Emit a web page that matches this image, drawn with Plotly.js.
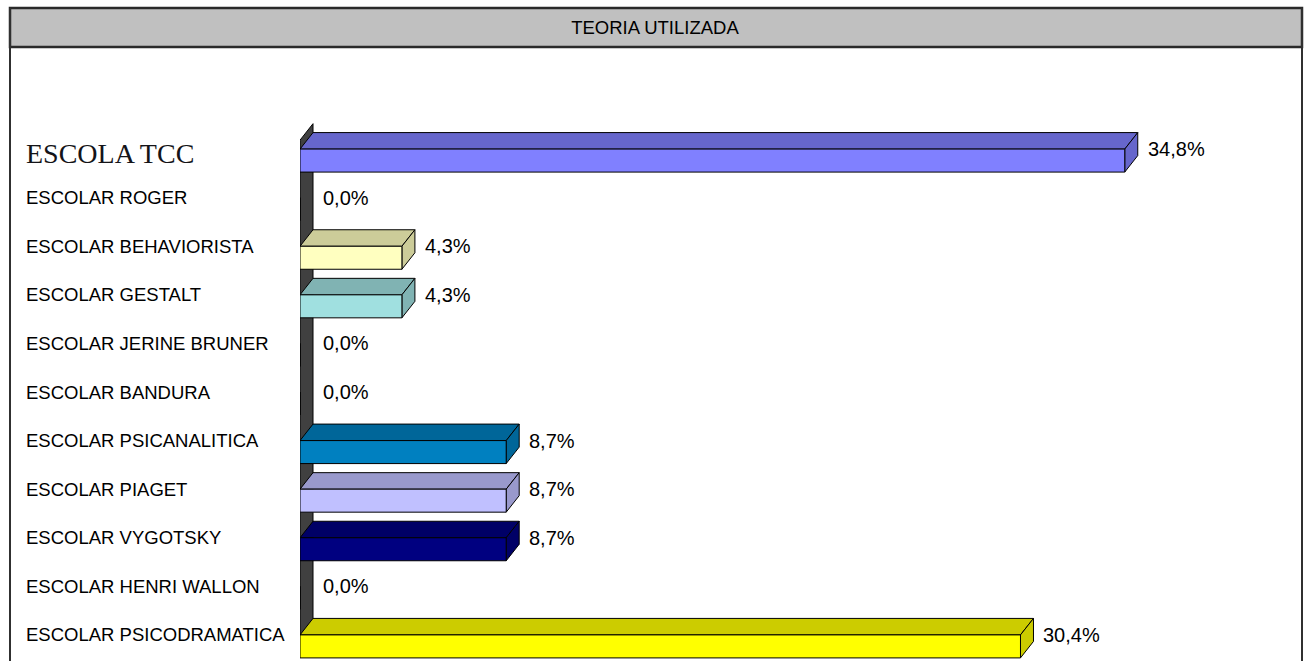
<!DOCTYPE html>
<html>
<head>
<meta charset="utf-8">
<script src="https://cdn.plot.ly/plotly-3.0.1.min.js"></script>
<style>html,body{margin:0;padding:0;background:#fff;}#chart{width:1310px;height:661px;}</style>
</head>
<body>
<div id="chart"></div>
<script>
// ---- data ----
const categories = ["ESCOLA TCC","ESCOLAR ROGER","ESCOLAR BEHAVIORISTA","ESCOLAR GESTALT","ESCOLAR JERINE BRUNER","ESCOLAR BANDURA","ESCOLAR PSICANALITICA","ESCOLAR PIAGET","ESCOLAR VYGOTSKY","ESCOLAR HENRI WALLON","ESCOLAR PSICODRAMATICA"];
const values = [34.8, 0.0, 4.3, 4.3, 0.0, 0.0, 8.7, 8.7, 8.7, 0.0, 30.4];
const frontColors = ["#8080FF","#993366","#FFFFC0","#A0E0E0","#660066","#FF8080","#0080C0","#C0C0FF","#000080","#FF00FF","#FFFF00"];
const topColors   = ["#6666CC","#7A2952","#CCCC99","#80B3B3","#520052","#CC6666","#006699","#9999CC","#000066","#CC00CC","#CCCC00"];
const chartTitle = "TEORIA UTILIZADA";

// ---- geometry (style) ----
const W = 1310, H = 661, ML = 300, MR = 20, MT = 112, MB = 0;
const PW = W - ML - MR, PH = H - MT - MB;
const xMax = PW / 23.7;
const yTop = -1.0, yBot = 10.30;
const pxPerUnitY = PH / (yBot - yTop);
const barH = 23 / pxPerUnitY;
const dx = 13 / 23.7;
const dy = 16.5 / pxPerUnitY;
const xp = px => (px - ML) / PW;
const yp = py => (H - py) / PH;

const idx = categories.map((c, i) => i);
const fmt = v => v.toFixed(1).replace('.', ',') + '%';

const shapes = [];
// back wall
const n = categories.length;
shapes.push({type:'path', xref:'x', yref:'y', layer:'below',
  path:`M 0,${-0.42} L ${dx},${-0.42-dy} L ${dx},${(n-1)+barH/2-dy} L 0,${(n-1)+barH/2} Z`,
  fillcolor:'#404040', line:{color:'#000', width:1}});
// 3D faces
values.forEach((v, i) => {
  if (v <= 0) return;
  const t = i - barH/2, b = i + barH/2;
  shapes.push({type:'path', xref:'x', yref:'y', layer:'below',
    path:`M 0,${t} L ${v},${t} L ${v+dx},${t-dy} L ${dx},${t-dy} Z`,
    fillcolor: topColors[i], line:{color:'#000', width:1}});
  shapes.push({type:'path', xref:'x', yref:'y', layer:'below',
    path:`M ${v},${t} L ${v+dx},${t-dy} L ${v+dx},${b-dy} L ${v},${b} Z`,
    fillcolor: topColors[i], line:{color:'#000', width:1}});
});
// frame & title bar
shapes.push({type:'rect', xref:'paper', yref:'paper', x0:xp(10), x1:xp(1302), y0:yp(47), y1:yp(8),
  fillcolor:'#C0C0C0', line:{color:'#2a2a2a', width:2.5}, layer:'above'});
shapes.push({type:'line', xref:'paper', yref:'paper', x0:xp(10), x1:xp(10), y0:yp(8), y1:yp(661), line:{color:'#303030', width:2}});
shapes.push({type:'line', xref:'paper', yref:'paper', x0:xp(1302), x1:xp(1302), y0:yp(8), y1:yp(661), line:{color:'#303030', width:2}});

const annotations = [];
categories.forEach((c, i) => {
  const isTcc = i === 0;
  annotations.push({xref:'paper', yref:'y', x:xp(27), y:i - barH/2, xanchor:'left', yanchor:'middle',
    xshift:-3, yshift: isTcc ? -4 : 0, showarrow:false, text:c,
    font: isTcc ? {family:'"Liberation Serif","Times New Roman",serif', size:28, color:'#141418'}
                : {family:'"Liberation Sans",Arial,sans-serif', size:18.5, color:'#000'}});
  annotations.push({xref:'x', yref:'y', x:values[i] + dx, y:i - barH/2, xanchor:'left', yanchor:'middle',
    xshift:8, showarrow:false, text:fmt(values[i]),
    font:{family:'"Liberation Sans",Arial,sans-serif', size:20, color:'#000'}});
});

const trace = {
  type:'bar', orientation:'h', x: values, y: idx, width: barH,
  marker:{color: frontColors, line:{color:'#000', width:1}},
  hoverinfo:'skip', showlegend:false
};

const layout = {
  width: W, height: H,
  margin:{l:ML, r:MR, t:MT, b:MB, pad:0},
  paper_bgcolor:'#fff', plot_bgcolor:'rgba(0,0,0,0)',
  title:{text: chartTitle, xref:'container', yref:'container', x:0.5, xanchor:'center', y:1 - 28/H, yanchor:'middle',
    font:{family:'"Liberation Sans",Arial,sans-serif', size:18.5, color:'#000'}},
  xaxis:{range:[0, xMax], showgrid:false, zeroline:false, showticklabels:false, showline:false, ticks:'', fixedrange:true},
  yaxis:{range:[yBot, yTop], showgrid:false, zeroline:false, showticklabels:false, showline:false, ticks:'', fixedrange:true},
  shapes, annotations, bargap:0
};

Plotly.newPlot('chart', [trace], layout, {displayModeBar:false, staticPlot:true});
</script>
</body>
</html>
